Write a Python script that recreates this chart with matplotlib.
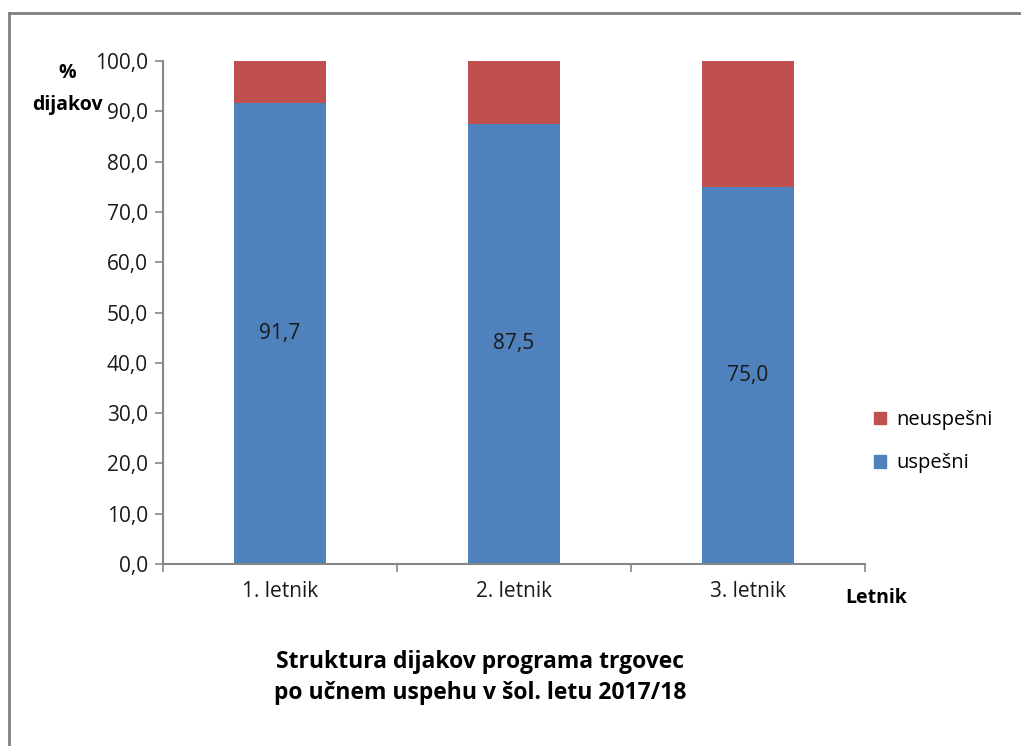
import matplotlib
matplotlib.use("Agg")
import matplotlib.pyplot as plt
from matplotlib.patches import Patch
from matplotlib.lines import Line2D

categories = ["1. letnik", "2. letnik", "3. letnik"]
uspesni = [91.7, 87.5, 75.0]
neuspesni = [8.3, 12.5, 25.0]
yticks = [0, 10, 20, 30, 40, 50, 60, 70, 80, 90, 100]

plt.rcParams['font.family'] = ['Open Sans', 'DejaVu Sans']

W, H = 1021, 746
fig = plt.figure(figsize=(W / 100, H / 100), dpi=100)
ax = fig.add_axes([163 / W, 1 - 564 / H, (865 - 163) / W, (564 - 61) / H])

blue = "#4F81BD"
red = "#C0504D"
axc = "#868686"

x = list(range(len(categories)))
ax.bar(x, uspesni, width=0.395, color=blue, label="uspešni")
ax.bar(x, neuspesni, width=0.395, bottom=uspesni, color=red, label="neuspešni")

for xi, v in zip(x, uspesni):
    ax.text(xi, v / 2, f"{v:.1f}".replace(".", ","), ha="center", va="center",
            fontsize=15, color="#1a1a1a")

ax.set_xlim(-0.5, len(categories) - 0.5)
ax.set_ylim(0, 100)
ax.set_yticks(yticks)
ax.set_yticklabels([f"{t:.1f}".replace(".", ",") for t in yticks], fontsize=15)
ax.set_xticks(x)
ax.set_xticklabels(categories, fontsize=15)
ax.tick_params(axis="x", length=0, pad=12, colors="#1a1a1a")
ax.tick_params(axis="y", length=6, width=1.2, color=axc, pad=5, labelcolor="#1a1a1a")
# minor ticks at category boundaries
ax.set_xticks([-0.5, 0.5, 1.5, 2.5], minor=True)
ax.tick_params(axis="x", which="minor", length=6, width=1.2, color=axc)

for s in ["top", "right"]:
    ax.spines[s].set_visible(False)
for s in ["left", "bottom"]:
    ax.spines[s].set_color(axc)
    ax.spines[s].set_linewidth(1.5)

# axis titles
fig.text(67 / W, 1 - 73 / H, "%", ha="center", va="center", fontsize=14, fontweight="bold")
fig.text(67 / W, 1 - 105 / H, "dijakov", ha="center", va="center", fontsize=14, fontweight="bold")
fig.text(876 / W, 1 - 598 / H, "Letnik", ha="center", va="center", fontsize=14, fontweight="bold")

# legend
handles = [Patch(color=red, label="neuspešni"), Patch(color=blue, label="uspešni")]
fig.legend(handles=handles, loc="upper left", bbox_to_anchor=(866 / W, 1 - 402 / H),
           frameon=False, fontsize=14.5, handlelength=0.6, handleheight=0.6,
           handletextpad=0.5, labelspacing=1.15, borderaxespad=0)

# title
fig.text(480 / W, 1 - 662 / H, "Struktura dijakov programa trgovec", ha="center",
         va="center", fontsize=16.5, fontweight="bold")
fig.text(480 / W, 1 - 693 / H, "po učnem uspehu v šol. letu 2017/18", ha="center",
         va="center", fontsize=16.5, fontweight="bold")

# outer frame (left and top visible)
fig.add_artist(Line2D([9 / W, 9 / W], [0, 1 - 13 / H], transform=fig.transFigure,
                      color="#7f7f7f", lw=2))
fig.add_artist(Line2D([9 / W, 1], [1 - 13 / H, 1 - 13 / H], transform=fig.transFigure,
                      color="#7f7f7f", lw=2))

fig.savefig("out.png", dpi=100)
